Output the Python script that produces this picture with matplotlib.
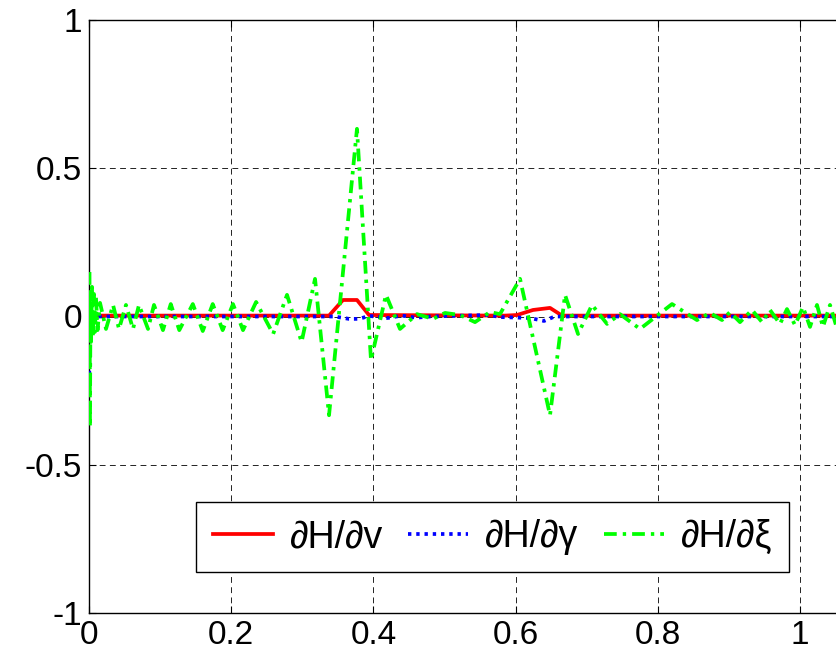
import matplotlib
matplotlib.use("Agg")
import matplotlib.pyplot as plt

# ---- data ----
green_x = [0.0007, 0.0014, 0.0021, 0.0028, 0.0042, 0.0056, 0.0070, 0.0084, 0.0098, 0.012,
           0.0155, 0.0239, 0.0338, 0.0422, 0.052, 0.0619, 0.0703, 0.083, 0.0914, 0.104,
           0.115, 0.127, 0.146, 0.160, 0.174, 0.188, 0.2025, 0.2166, 0.235, 0.259,
           0.2785, 0.299, 0.3179, 0.3376, 0.3769, 0.3966, 0.4177, 0.4374, 0.4613, 0.4838,
           0.5007, 0.5218, 0.5429, 0.564, 0.578, 0.6062, 0.6484, 0.6695, 0.6878, 0.7075,
           0.7286, 0.7468, 0.775, 0.82, 0.8551, 0.8734, 0.8903, 0.9015, 0.9156, 0.9325,
           0.9466, 0.9578, 0.9719, 0.9817, 0.993, 1.0042, 1.0141, 1.0239, 1.0323, 1.0422,
           1.0506, 1.059, 1.068, 1.077]
green_y = [0.150, -0.373, 0.083, -0.086, 0.100, -0.069, 0.076, -0.052, 0.066, -0.046,
           0.046, -0.042, 0.039, -0.042, 0.039, -0.042, 0.039, -0.042, 0.039, -0.046,
           0.042, -0.046, 0.042, -0.049, 0.042, -0.046, 0.042, -0.046, 0.049, -0.059,
           0.073, -0.086, 0.127, -0.333, 0.633, -0.147, 0.073, -0.042, 0.008, -0.008,
           0.012, 0.005, -0.019, 0.015, 0.008, 0.127, -0.333, 0.073, -0.059, 0.039,
           -0.025, 0.008, -0.042, 0.042, -0.012, 0.012, -0.012, 0.015, -0.019, 0.022,
           -0.019, 0.022, -0.025, 0.025, -0.029, 0.032, -0.035, 0.039, -0.035, 0.039,
           -0.029, 0.039, -0.035, 0.039]

red_x = [0.0, 0.3376, 0.3572, 0.3769, 0.3938, 0.5851, 0.6020, 0.6245, 0.6484, 0.6653, 1.1]
red_y = [0.003, 0.003, 0.0557, 0.0557, 0.005, 0.003, 0.005, 0.022, 0.029, 0.003, 0.003]

blue_x = [0.0, 0.0014, 0.345, 0.3657, 0.38, 0.3938, 0.42, 0.44, 0.46, 0.48, 0.56, 0.58,
          0.62, 0.64, 0.655, 1.1]
blue_y = [-0.25, 0.0, 0.0, -0.008, -0.008, 0.002, -0.005, 0.003, -0.004, 0.0, 0.005, -0.002,
          -0.005, -0.015, 0.0, 0.0]

labels = ["\u2202H/\u2202v", "\u2202H/\u2202\u03b3", "\u2202H/\u2202\u03be"]
xticks = [0, 0.2, 0.4, 0.6, 0.8, 1.0]
xticklabels = ["0", "0.2", "0.4", "0.6", "0.8", "1"]
yticks = [-1, -0.5, 0, 0.5, 1]
yticklabels = ["-1", "-0.5", "0", "0.5", "1"]

plt.rcParams['font.family'] = ['Liberation Sans', 'DejaVu Sans']

fig = plt.figure(figsize=(8.36, 6.63), dpi=100)
ax = fig.add_axes([89 / 836, 50 / 663, 1.1 * 711 / 836, 593 / 663])

lw = 2.7
ax.plot(red_x, red_y, color='#ff0000', lw=lw, linestyle='-', label=labels[0], zorder=3)
ax.plot(blue_x, blue_y, color='#0000ff', lw=lw, linestyle=(0, (0.9, 1.3)), label=labels[1], zorder=4)
ax.plot(green_x, green_y, color='#00ff00', lw=lw, linestyle=(0, (3.4, 1.6, 0.9, 1.6)), label=labels[2], zorder=5)

ax.set_xlim(0, 1.1)
ax.set_ylim(-1, 1)
ax.set_xticks(xticks)
ax.set_xticklabels(xticklabels)
ax.set_yticks(yticks)
ax.set_yticklabels(yticklabels)
ax.tick_params(direction='in', length=5, width=0.8, top=True, right=True,
               labelsize=24, pad=5, colors='black')
ax.grid(True, color='#222222', linestyle=(0, (6, 4.5)), linewidth=0.7)
for s in ax.spines.values():
    s.set_linewidth(1.0)
    s.set_color('black')

leg = ax.legend(loc='lower left', bbox_to_anchor=(0.1368, 0.069), ncol=3, fontsize=27,
                frameon=True, fancybox=False, framealpha=1, edgecolor='black',
                handlelength=1.6, handletextpad=0.45, columnspacing=0.68, borderaxespad=0,
                borderpad=0.45)
leg.get_frame().set_linewidth(1.0)

fig.savefig("out.png", dpi=100)
